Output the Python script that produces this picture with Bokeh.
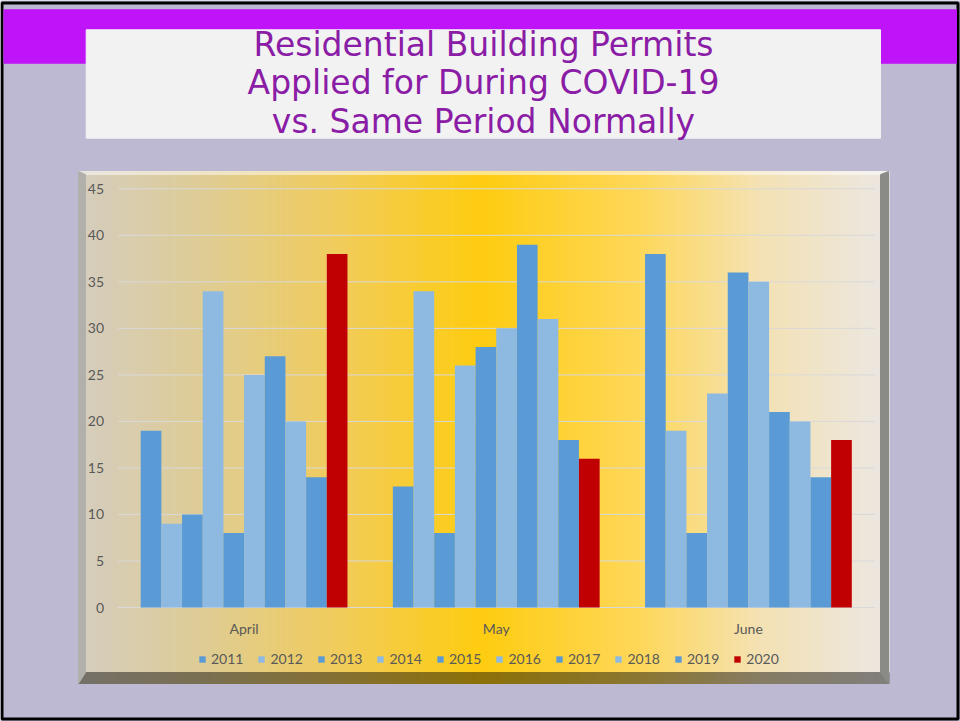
import numpy as np
from bokeh.plotting import figure
from bokeh.models import Range1d, Legend, LegendItem
from bokeh.core.properties import value
from bokeh.embed import file_html
from bokeh.resources import INLINE

# ---------------- data ----------------
months = ["April", "May", "June"]
years = ["2011", "2012", "2013", "2014", "2015", "2016", "2017", "2018", "2019", "2020"]
permits_2011 = [19, 13, 38]
permits_2012 = [9, 34, 19]
permits_2013 = [10, 8, 8]
permits_2014 = [34, 26, 23]
permits_2015 = [8, 28, 36]
permits_2016 = [25, 30, 35]
permits_2017 = [27, 39, 21]
permits_2018 = [20, 31, 20]
permits_2019 = [14, 18, 14]
permits_2020 = [38, 16, 18]
y_ticks = [0, 5, 10, 15, 20, 25, 30, 35, 40, 45]
y_tick_labels = ["0", "5", "10", "15", "20", "25", "30", "35", "40", "45"]
title_lines = ["Residential Building Permits",
               "Applied for During COVID-19",
               "vs. Same Period Normally"]

series = [permits_2011, permits_2012, permits_2013, permits_2014, permits_2015,
          permits_2016, permits_2017, permits_2018, permits_2019, permits_2020]
dark_blue, light_blue, red = "#5B9BD5", "#8EB9E1", "#C00000"
series_colors = [dark_blue, light_blue] * 4 + [dark_blue, red]

# ---------------- layout (page pixels) ----------------
W, H = 960, 721
GX0, GX1 = 117.5, 874        # plot area left/right
GY0, GYTOP = 607, 188.3      # value 0 / value 45
YMAX = 45
k = (GY0 - GYTOP) / YMAX
cat_px = (GX1 - GX0) / len(months)

p = figure(width=W, height=H, output_backend="svg", toolbar_location=None,
           x_range=Range1d(0, W), y_range=Range1d(H, 0),
           x_axis_type=None, y_axis_type=None, min_border=0,
           background_fill_color="#BEB9D2", border_fill_color="#BEB9D2",
           outline_line_color=None)
p.grid.visible = False
p.extra_x_ranges = {"cx": Range1d(-GX0 / cat_px, len(months) + (W - GX1) / cat_px)}
p.extra_y_ranges = {"cy": Range1d(-(H - GY0) / k, YMAX + GYTOP / k)}

# slide border, banner + title box
p.quad(left=1.5, right=W - 2.5, top=2.5, bottom=H - 2.5, fill_alpha=0,
       line_color="#000000", line_width=3)
p.quad(left=3.5, right=W - 4, top=9.3, bottom=62.7, color="#C014F8")
p.quad(left=85.7, right=880, top=29.3, bottom=137.7, color="#F2F2F2")
p.text(x=[483] * 3, y=[43.5, 82, 120.5], text=title_lines,
       text_align="center", text_baseline="middle",
       text_font=value("DejaVu Sans"), text_font_size="33px", text_color="#8A1CA6")

# chart panel: gradient + bevel
PX0, PX1, PY0, PY1 = 85, 880, 174, 672
OX0, OX1, OY0, OY1 = 78, 888, 171, 683
stops_x = np.array([85, 200, 330, 480, 640, 760, 880])
stops_c = np.array([(214, 206, 189), (222, 204, 150), (240, 205, 95), (255, 204, 16),
                    (254, 216, 90), (244, 226, 180), (236, 231, 224)], dtype=float)


def grad(xs, f=1.0, w=0.0):
    out = []
    for x in xs:
        c = np.array([np.interp(x, stops_x, stops_c[:, i]) for i in range(3)])
        c = c * f + 255 * w
        c = np.clip(c, 0, 255).astype(int)
        out.append("#%02x%02x%02x" % tuple(c))
    return out


xs = np.arange(OX0, OX1, 2.0)
p.quad(left=xs, right=xs + 2.6, top=PY0, bottom=PY1, color=grad(xs + 1))
p.quad(left=xs, right=xs + 2.6, top=OY0, bottom=PY0, color=grad(xs + 1, 0.5, 0.5))
p.quad(left=xs, right=xs + 2.6, top=PY1, bottom=OY1, color=grad(xs + 1, 0.55))
p.patch(x=[OX0, PX0, PX0, OX0], y=[OY0, PY0, PY1, OY1], color="#B2B0AA")
p.patch(x=[OX1, PX1, PX1, OX1], y=[OY0, PY0, PY1, OY1], color="#8A8A86")

# gridlines
p.segment(x0=0, x1=len(months), y0=y_ticks, y1=y_ticks, x_range_name="cx", y_range_name="cy",
          line_color="#D9D9D9", line_width=1)

# bars
group = 0.82
bw = group / len(years)
items = []
for j, (yr, vals, col) in enumerate(zip(years, series, series_colors)):
    xpos = np.arange(len(months)) + 0.5 + (j - (len(years) - 1) / 2) * bw
    r = p.vbar(x=xpos, top=vals, bottom=0, width=bw, x_range_name="cx", y_range_name="cy",
               fill_color=col, line_color=None)
    items.append(LegendItem(label=yr, renderers=[r]))

# axis texts
p.text(x=[0] * len(y_ticks), y=y_ticks, text=y_tick_labels, x_range_name="cx", y_range_name="cy",
       x_offset=-14, text_align="right", text_baseline="middle",
       text_font=value("Lato"), text_font_size="14px", text_color="#595959")
p.text(x=np.arange(len(months)) + 0.5, y=[0] * len(months), text=months,
       x_range_name="cx", y_range_name="cy", y_offset=21,
       text_align="center", text_baseline="middle",
       text_font=value("Lato"), text_font_size="14px", text_color="#595959")

legend = Legend(items=items, orientation="horizontal", location=(198, 54),
                glyph_width=8, glyph_height=8, label_standoff=5, spacing=14,
                padding=0, margin=0, label_height=16,
                label_text_font="Lato", label_text_font_size="14px", label_text_color="#595959",
                background_fill_alpha=0, border_line_alpha=0)
p.add_layout(legend)

open("out.html", "w").write(file_html(p, INLINE))
